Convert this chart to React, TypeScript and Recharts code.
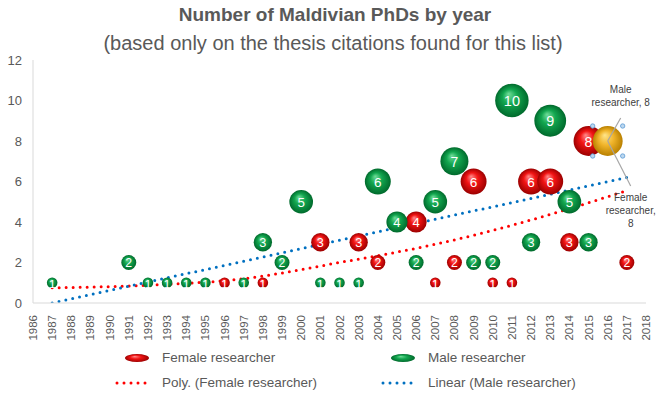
import React from 'react';
import { ComposedChart, Scatter, Line, XAxis, YAxis, ZAxis } from 'recharts';

// bubbles: year -> number of theses
const femaleYears = [1996, 1998, 2001, 2003, 2004, 2006, 2007, 2008, 2009, 2010, 2011, 2012, 2013, 2014, 2015, 2017];
const femaleCounts = [1, 1, 3, 3, 2, 4, 1, 2, 6, 1, 1, 6, 6, 3, 8, 2];

const maleYears = [1987, 1991, 1992, 1993, 1994, 1995, 1997, 1998, 1999, 2000, 2001, 2002, 2003, 2004, 2005, 2006, 2007, 2008, 2009, 2010, 2011, 2012, 2013, 2014, 2015, 2016];
const maleCounts = [1, 2, 1, 1, 1, 1, 1, 3, 2, 5, 1, 1, 1, 6, 4, 2, 5, 7, 2, 2, 10, 3, 9, 5, 3, 8];

// trendlines, values
const polyYears = [1987, 1992, 1997, 2002, 2007, 2012, 2017];
const polyValues = [0.75, 0.88, 1.2, 2.0, 2.9, 4.1, 5.55];
const linearYears = [1987, 2017];
const linearValues = [0, 6.2];

const yearTicks = Array.from({ length: 33 }, (_, i) => 1986 + i);
const countTicks = [0, 2, 4, 6, 8, 10, 12];

const HIGHLIGHT_YEAR = 2016;

const femaleData = femaleYears.map((x, i) => ({ x, y: femaleCounts[i], z: femaleCounts[i] }));
const maleData = maleYears.map((x, i) => ({ x, y: maleCounts[i], z: maleCounts[i] }));
const polyData = polyYears.map((x, i) => ({ x, y: polyValues[i] }));
const linearData = linearYears.map((x, i) => ({ x, y: linearValues[i] }));

const FONT = '"Liberation Sans", Arial, sans-serif';
const GREY = '#595959';

const Bubble = (props: any) => {
  const { cx, cy, size, payload, fillId } = props;
  const r = Math.sqrt((size || 0) / Math.PI);
  const highlight = fillId === 'gGreen' && payload.x === HIGHLIGHT_YEAR;
  const fs = 10.5 + r * 0.24;
  if (highlight) {
    const h = 15;
    const note = { textAnchor: 'middle' as const, dominantBaseline: 'central' as const, fontSize: 10, fill: '#404040', fontFamily: FONT };
    return (
      <g>
        <circle cx={cx} cy={cy} r={r} fill="url(#gGold)" />
        <line x1={cx} y1={cy} x2={cx + 13} y2={cy - 23} stroke="#a6a6a6" strokeWidth={1.2} />
        <line x1={cx} y1={cy} x2={cx + 23} y2={cy + 45} stroke="#a6a6a6" strokeWidth={1.2} />
        {[[-h, -h], [h, -h], [-h, h], [h, h]].map(([dx, dy], i) => (
          <circle key={i} cx={cx + dx} cy={cy + dy} r={2.2} fill="#bdd7ee" stroke="#5b9bd5" strokeWidth={0.8} />
        ))}
        <text x={cx + 13} y={cy - 52} {...note}>Male</text>
        <text x={cx + 13} y={cy - 39} {...note}>researcher, 8</text>
        <text x={cx + 23} y={cy + 56} {...note}>Female</text>
        <text x={cx + 23} y={cy + 69} {...note}>researcher,</text>
        <text x={cx + 23} y={cy + 82} {...note}>8</text>
      </g>
    );
  }
  return (
    <g>
      <circle cx={cx} cy={cy} r={r} fill={`url(#${fillId})`} />
      <text x={cx} y={cy + 0.5} textAnchor="middle" dominantBaseline="central" fontSize={fs} fill="#ffffff" fontFamily={FONT}>
        {payload.y}
      </text>
    </g>
  );
};

const YearTick = ({ x, y, payload }: any) => (
  <text
    x={x}
    y={y + 4}
    transform={`rotate(-90 ${x} ${y + 4})`}
    textAnchor="end"
    dominantBaseline="central"
    fontSize={11.5}
    fill={GREY}
    fontFamily={FONT}
  >
    {payload.value}
  </text>
);

const Dots = ({ color }: { color: string }) => (
  <svg width={40} height={8}>
    <line x1={3} y1={4} x2={38} y2={4} stroke={color} strokeWidth={3} strokeDasharray="0 7" strokeLinecap="round" />
  </svg>
);

const Blob = ({ id }: { id: string }) => (
  <svg width={28} height={10}>
    <ellipse cx={14} cy={5} rx={12} ry={4} fill={`url(#${id})`} />
  </svg>
);

const legendText: React.CSSProperties = { fontSize: 13.5, color: GREY, fontFamily: FONT, whiteSpace: 'nowrap' };

export default function App() {
  return (
    <div style={{ position: 'fixed', left: 0, top: 0, width: 659, height: 397, background: '#fff', fontFamily: FONT }}>
      <div style={{ position: 'absolute', left: 0, width: 670, top: 3, textAlign: 'center', fontSize: 19, fontWeight: 'bold', color: GREY, lineHeight: '24px' }}>
        Number of Maldivian PhDs by year
      </div>
      <div style={{ position: 'absolute', left: 0, width: 666, top: 31, textAlign: 'center', fontSize: 20, color: GREY, lineHeight: '24px' }}>
        (based only on the thesis citations found for this list)
      </div>
      <ComposedChart width={659} height={397} margin={{ top: 60, right: 13, left: 8, bottom: 59 }}>
        <defs>
          <radialGradient id="gGreen" cx="50%" cy="50%" r="50%" fx="40%" fy="30%">
            <stop offset="0%" stopColor="#6fdc98" />
            <stop offset="45%" stopColor="#12a64f" />
            <stop offset="100%" stopColor="#006a2c" />
          </radialGradient>
          <radialGradient id="gRed" cx="50%" cy="50%" r="50%" fx="40%" fy="30%">
            <stop offset="0%" stopColor="#ff8a8a" />
            <stop offset="45%" stopColor="#f21414" />
            <stop offset="100%" stopColor="#9c0000" />
          </radialGradient>
          <radialGradient id="gGold" cx="50%" cy="50%" r="50%" fx="40%" fy="30%">
            <stop offset="0%" stopColor="#ffe58a" />
            <stop offset="50%" stopColor="#f0b42a" />
            <stop offset="100%" stopColor="#b98000" />
          </radialGradient>
        </defs>
        <XAxis
          type="number"
          dataKey="x"
          domain={[1986, 2018]}
          ticks={yearTicks}
          interval={0}
          tick={<YearTick />}
          tickLine={false}
          axisLine={{ stroke: '#d9d9d9' }}
          height={35}
        />
        <YAxis
          type="number"
          dataKey="y"
          domain={[0, 12]}
          ticks={countTicks}
          width={25}
          tickLine={false}
          tickMargin={5}
          allowDataOverflow
          axisLine={{ stroke: '#d9d9d9' }}
          tick={{ fontSize: 13, fill: GREY, fontFamily: FONT }}
        />
        <ZAxis type="number" dataKey="z" domain={[0, 10]} range={[0, 880]} />
        <Scatter
          name="Female researcher"
          data={femaleData}
          isAnimationActive={false}
          shape={(p: any) => <Bubble {...p} fillId="gRed" />}
        />
        <Scatter
          name="Male researcher"
          data={maleData}
          isAnimationActive={false}
          shape={(p: any) => <Bubble {...p} fillId="gGreen" />}
        />
        <Line
          name="Poly. (Female researcher)"
          data={polyData}
          dataKey="y"
          type="monotone"
          stroke="#ff0000"
          strokeWidth={3}
          strokeDasharray="0 7"
          strokeLinecap="round"
          dot={false}
          activeDot={false}
          isAnimationActive={false}
        />
        <Line
          name="Linear (Male researcher)"
          data={linearData}
          dataKey="y"
          type="linear"
          stroke="#0070c0"
          strokeWidth={3}
          strokeDasharray="0 7"
          strokeLinecap="round"
          dot={false}
          activeDot={false}
          isAnimationActive={false}
        />
      </ComposedChart>
      <div style={{ position: 'absolute', left: 123, top: 350, display: 'flex', alignItems: 'center' }}>
        <Blob id="gRed" />
        <span style={{ ...legendText, marginLeft: 11 }}>Female researcher</span>
      </div>
      <div style={{ position: 'absolute', left: 389, top: 350, display: 'flex', alignItems: 'center' }}>
        <Blob id="gGreen" />
        <span style={{ ...legendText, marginLeft: 11 }}>Male researcher</span>
      </div>
      <div style={{ position: 'absolute', left: 114, top: 375, display: 'flex', alignItems: 'center' }}>
        <Dots color="#ff0000" />
        <span style={{ ...legendText, marginLeft: 8 }}>Poly. (Female researcher)</span>
      </div>
      <div style={{ position: 'absolute', left: 380, top: 375, display: 'flex', alignItems: 'center' }}>
        <Dots color="#0070c0" />
        <span style={{ ...legendText, marginLeft: 8 }}>Linear (Male researcher)</span>
      </div>
    </div>
  );
}
